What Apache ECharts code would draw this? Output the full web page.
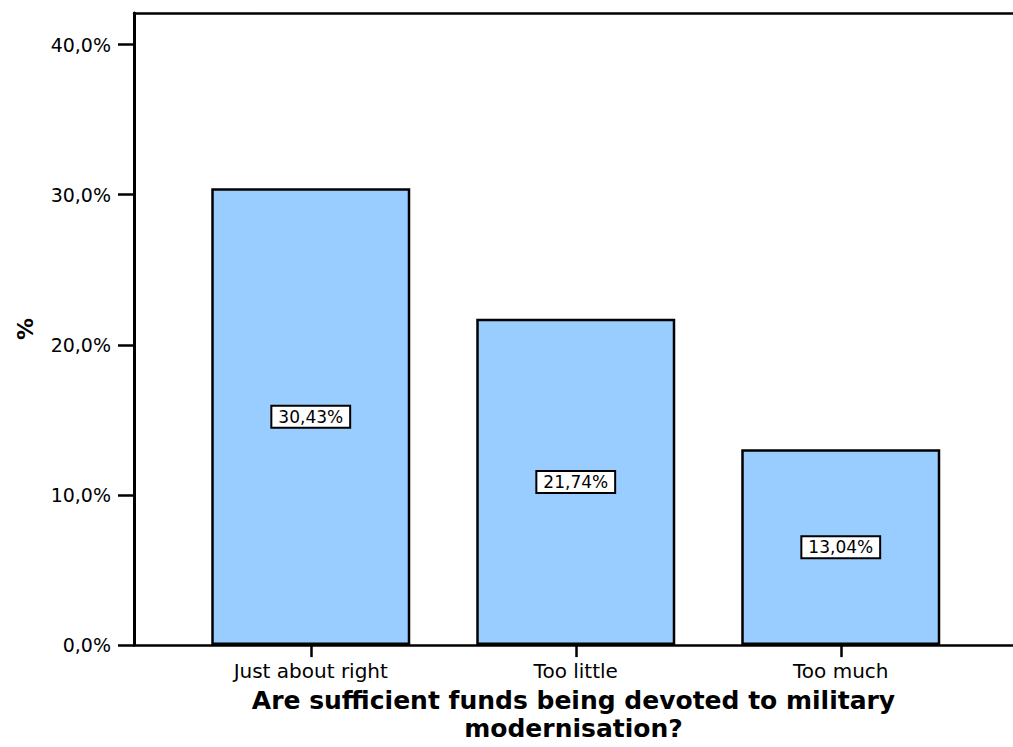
<!DOCTYPE html>
<html>
<head>
<meta charset="utf-8">
<script src="https://cdn.jsdelivr.net/npm/echarts@6/dist/echarts.min.js"></script>
<style>
html,body{margin:0;padding:0;background:#fff;}
#chart{width:1013px;height:747px;}
</style>
</head>
<body>
<div id="chart"></div>
<script>
const categories = ['Just about right', 'Too little', 'Too much'];
const percentValues = [30.43, 21.74, 13.04];
const yTickValues = [0, 10, 20, 30, 40];
const xAxisTitle = 'Are sufficient funds being devoted to military\nmodernisation?';
const yAxisTitle = '%';

const FONT = 'DejaVu Sans';
const chart = echarts.init(document.getElementById('chart'), null, {renderer: 'svg'});
const catIdx = categories.map((c, i) => i);
const fmt = v => v.toFixed(1).replace('.', ',') + '%';

chart.setOption({
  animation: false,
  backgroundColor: '#fff',
  grid: {left: 134, right: 0, top: 13, bottom: 95, containLabel: false},
  xAxis: [{
    type: 'value', position: 'bottom', min: -0.667, max: 2.65,
    splitLine: {show: false},
    axisLine: {show: true, onZero: false, lineStyle: {color: '#000', width: 2.5}},
    axisTick: {show: true, customValues: catIdx, length: 12, lineStyle: {color: '#000', width: 2.5}},
    axisLabel: {show: true, customValues: catIdx, formatter: v => categories[Math.round(v)],
      color: '#000', fontFamily: FONT, fontSize: 20, margin: 16},
    name: xAxisTitle, nameLocation: 'middle', nameGap: 38,
    nameTextStyle: {color: '#000', fontFamily: FONT, fontWeight: 'bold', fontSize: 25, lineHeight: 28, align: 'center'}
  }, {
    type: 'value', position: 'top', min: -0.667, max: 2.65,
    splitLine: {show: false}, axisTick: {show: false}, axisLabel: {show: false},
    axisLine: {show: true, onZero: false, lineStyle: {color: '#000', width: 2.5}}
  }],
  yAxis: {
    type: 'value', min: 0, max: 42.1,
    splitLine: {show: false},
    axisLine: {show: true, onZero: false, lineStyle: {color: '#000', width: 3}},
    axisTick: {show: true, customValues: yTickValues, length: 16, lineStyle: {color: '#000', width: 2.5}},
    axisLabel: {show: true, customValues: yTickValues, formatter: fmt,
      color: '#000', fontFamily: FONT, fontSize: 19, margin: 23},
    name: yAxisTitle, nameLocation: 'middle', nameGap: 98,
    nameTextStyle: {color: '#000', fontFamily: FONT, fontWeight: 'bold', fontSize: 22}
  },
  series: [{
    type: 'bar', xAxisIndex: 0,
    data: percentValues.map((v, i) => [i, v]),
    barWidth: 199,
    itemStyle: {color: '#99ccff', borderColor: '#000', borderWidth: 2.5},
    label: {
      show: true, position: 'inside',
      formatter: p => p.value[1].toFixed(2).replace('.', ',') + '%',
      color: '#000', fontFamily: FONT, fontSize: 17,
      backgroundColor: '#fff', borderColor: '#000', borderWidth: 2,
      padding: [2, 6, 1, 6]
    }
  }]
});
</script>
</body>
</html>
